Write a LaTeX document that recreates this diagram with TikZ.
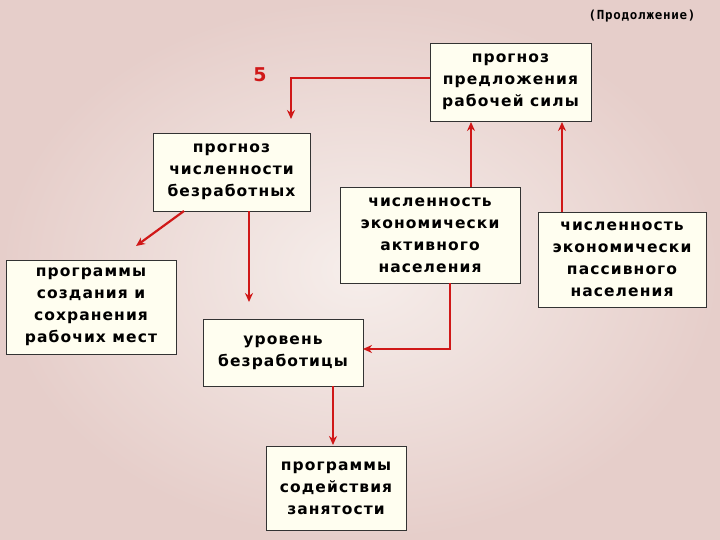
\documentclass[tikz,border=0pt]{standalone}
\usepackage{fontspec}
\usetikzlibrary{arrows.meta}
\setmainfont{DejaVu Sans}
\newfontfamily\spaced[LetterSpace=7]{DejaVu Sans}
\newfontfamily\monof[LetterSpace=6]{DejaVu Sans Mono}
\begin{document}
\begin{tikzpicture}[x=1pt,y=-1pt,
  box/.style={draw=black!80,line width=0.8pt,fill=boxfill,align=center,inner sep=0pt,font=\spaced\bfseries\fontsize{15.5}{22}\selectfont},
  arr/.style={draw=arrred,line width=2.2pt,-{Stealth[length=9pt,width=8pt]}}]
\definecolor{boxfill}{HTML}{FFFEF0}
\definecolor{arrred}{HTML}{D01818}
\definecolor{bgout}{HTML}{E6CECA}
\definecolor{bgin}{HTML}{F6EEEB}
\useasboundingbox (0,0) rectangle (720,540);
\shade[inner color=bgin,outer color=bgout] (0,0) rectangle (720,540);
\node[font=\monof\bfseries\fontsize{12.5}{14}\selectfont] (cont) at (642,16) {(Продолжение)};
\node[text=arrred,font=\bfseries\fontsize{19}{20}\selectfont] (five) at (260,75) {5};
\node[box,minimum width=161,minimum height=78] (A) at (510.5,82) {прогноз\\предложения\\рабочей силы};
\node[box,minimum width=157,minimum height=78] (B) at (231.5,172) {прогноз\\численности\\безработных};
\node[box,minimum width=180,minimum height=96] (C) at (430,235) {численность\\экономически\\активного\\населения};
\node[box,minimum width=168,minimum height=95] (D) at (622,259.5) {численность\\экономически\\пассивного\\населения};
\node[box,minimum width=170,minimum height=94] (E) at (91,307) {программы\\создания и\\сохранения\\рабочих мест};
\node[box,minimum width=160,minimum height=67] (F) at (283,352.5) {уровень\\безработицы};
\node[box,minimum width=140,minimum height=84] (G) at (336,488) {программы\\содействия\\занятости};
\coordinate (a1) at (291,119);
\coordinate (b1) at (136,246);
\coordinate (b2) at (249,302);
\coordinate (g1) at (333,445);
\draw[arr] (A.west |- 0,78) -| (a1);
\draw[arr] (184,211) -- (b1);
\draw[arr] (B.south -| b2) -- (b2);
\draw[arr] (C.north -| 471,0) -- (471,122);
\draw[arr] (D.north -| 562,0) -- (562,122);
\draw[arr] (C.south -| 450,0) |- (363,349);
\draw[arr] (F.south -| g1) -- (g1);
\end{tikzpicture}
\end{document}
